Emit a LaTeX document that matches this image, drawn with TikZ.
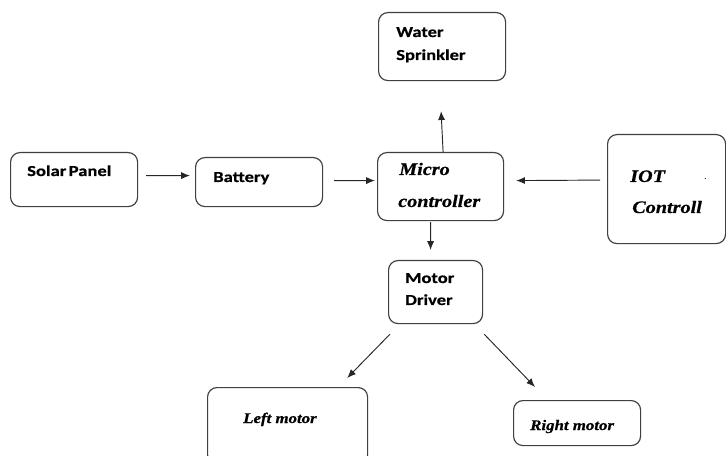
\documentclass[tikz,border=0pt]{standalone}
\usepackage{fontspec}
\usetikzlibrary{arrows.meta}
\newfontfamily\labsans[FakeStretch=1.22,BoldFeatures={FakeBold=0.6}]{Carlito}
\newfontfamily\labserif[FakeStretch=1.15,BoldItalicFeatures={FakeBold=0.6}]{Liberation Serif}
\begin{document}
\begin{tikzpicture}[x=0.03cm,y=-0.03cm,
  box/.style={draw=black!75, line width=1pt, rounded corners=8pt, inner sep=0pt, anchor=north west},
  stxt/.style={anchor=base west, inner sep=0pt, font=\labsans\bfseries\fontsize{13}{15}\selectfont},
  itxt/.style={anchor=base west, inner sep=0pt, font=\labserif\bfseries\itshape\fontsize{15}{18}\selectfont},
  mtxt/.style={anchor=base west, inner sep=0pt, font=\labserif\bfseries\itshape\fontsize{12.5}{15}\selectfont},
  arr/.style={draw=black!85, line width=0.8pt, -{Latex[length=7.5pt,width=6pt]}}]
\useasboundingbox (0,0) rectangle (726,456);
% boxes
\node[box, minimum width=3.81cm, minimum height=1.62cm] (solar) at (10,152) {};
\node[box, minimum width=3.81cm, minimum height=1.47cm] (bat) at (195,157) {};
\node[box, minimum width=3.78cm, minimum height=2.04cm] (micro) at (377,152) {};
\node[box, minimum width=3.81cm, minimum height=2.04cm] (water) at (378,12) {};
\node[box, minimum width=3.54cm, minimum height=3.27cm] (iot) at (607,134) {};
\node[box, minimum width=2.82cm, minimum height=1.89cm] (motor) at (388,260) {};
\node[box, minimum width=4.8cm, minimum height=2.3cm] (left) at (207,387) {};
\node[box, minimum width=3.81cm, minimum height=1.35cm] (right) at (513,400) {};
% texts
\node[stxt] (tsolar) at (27,176) {Solar\kern-0.12em\ Panel};
\node[stxt] (tbat) at (213,182) {Battery};
\node[stxt] (twater1) at (396,37) {Water};
\node[stxt] (twater2) at (396,60) {Sprinkler};
\node[stxt] (tmotor1) at (405,283) {Motor};
\node[stxt] (tmotor2) at (405,305) {Driver};
\node[itxt] (tmicro1) at (399,175) {Micro};
\node[itxt] (tmicro2) at (398,207) {controller};
\node[itxt] (tiot1) at (630,182) {IOT};
\node[mtxt, font=\labserif\fontsize{8}{9}\selectfont] (tiotdot) at (704,180) {.};
\node[itxt] (tiot2) at (632,213) {Controll};
\node[mtxt] (tleft) at (243,423) {Left motor};
\node[mtxt] (tright) at (530,430) {Right motor};
% arrows
\draw[arr] ([shift={(8,-4)}]solar.east) -- ([shift={(-5,-6.5)}]bat.west);
\draw[arr] ([shift={(11,-1.5)}]bat.east) -- ([shift={(-2,-6)}]micro.west);
\draw[arr] ([shift={(-7,-9)}]iot.west) -- ([shift={(12,-6)}]micro.east);
\draw[arr] ([shift={(2.5,0)}]micro.north) -- ([shift={(-1,30)}]water.south);
\draw[arr] ([shift={(-10,1)}]micro.south) -- ([shift={(-5,-10)}]motor.north);
\draw[arr] ([shift={(2,10)}]motor.south west) -- ([shift={(-21,-9)}]left.north east);
\draw[arr] ([shift={(1,10)}]motor.south east) -- ([shift={(22,-13)}]right.north west);
\end{tikzpicture}
\end{document}
